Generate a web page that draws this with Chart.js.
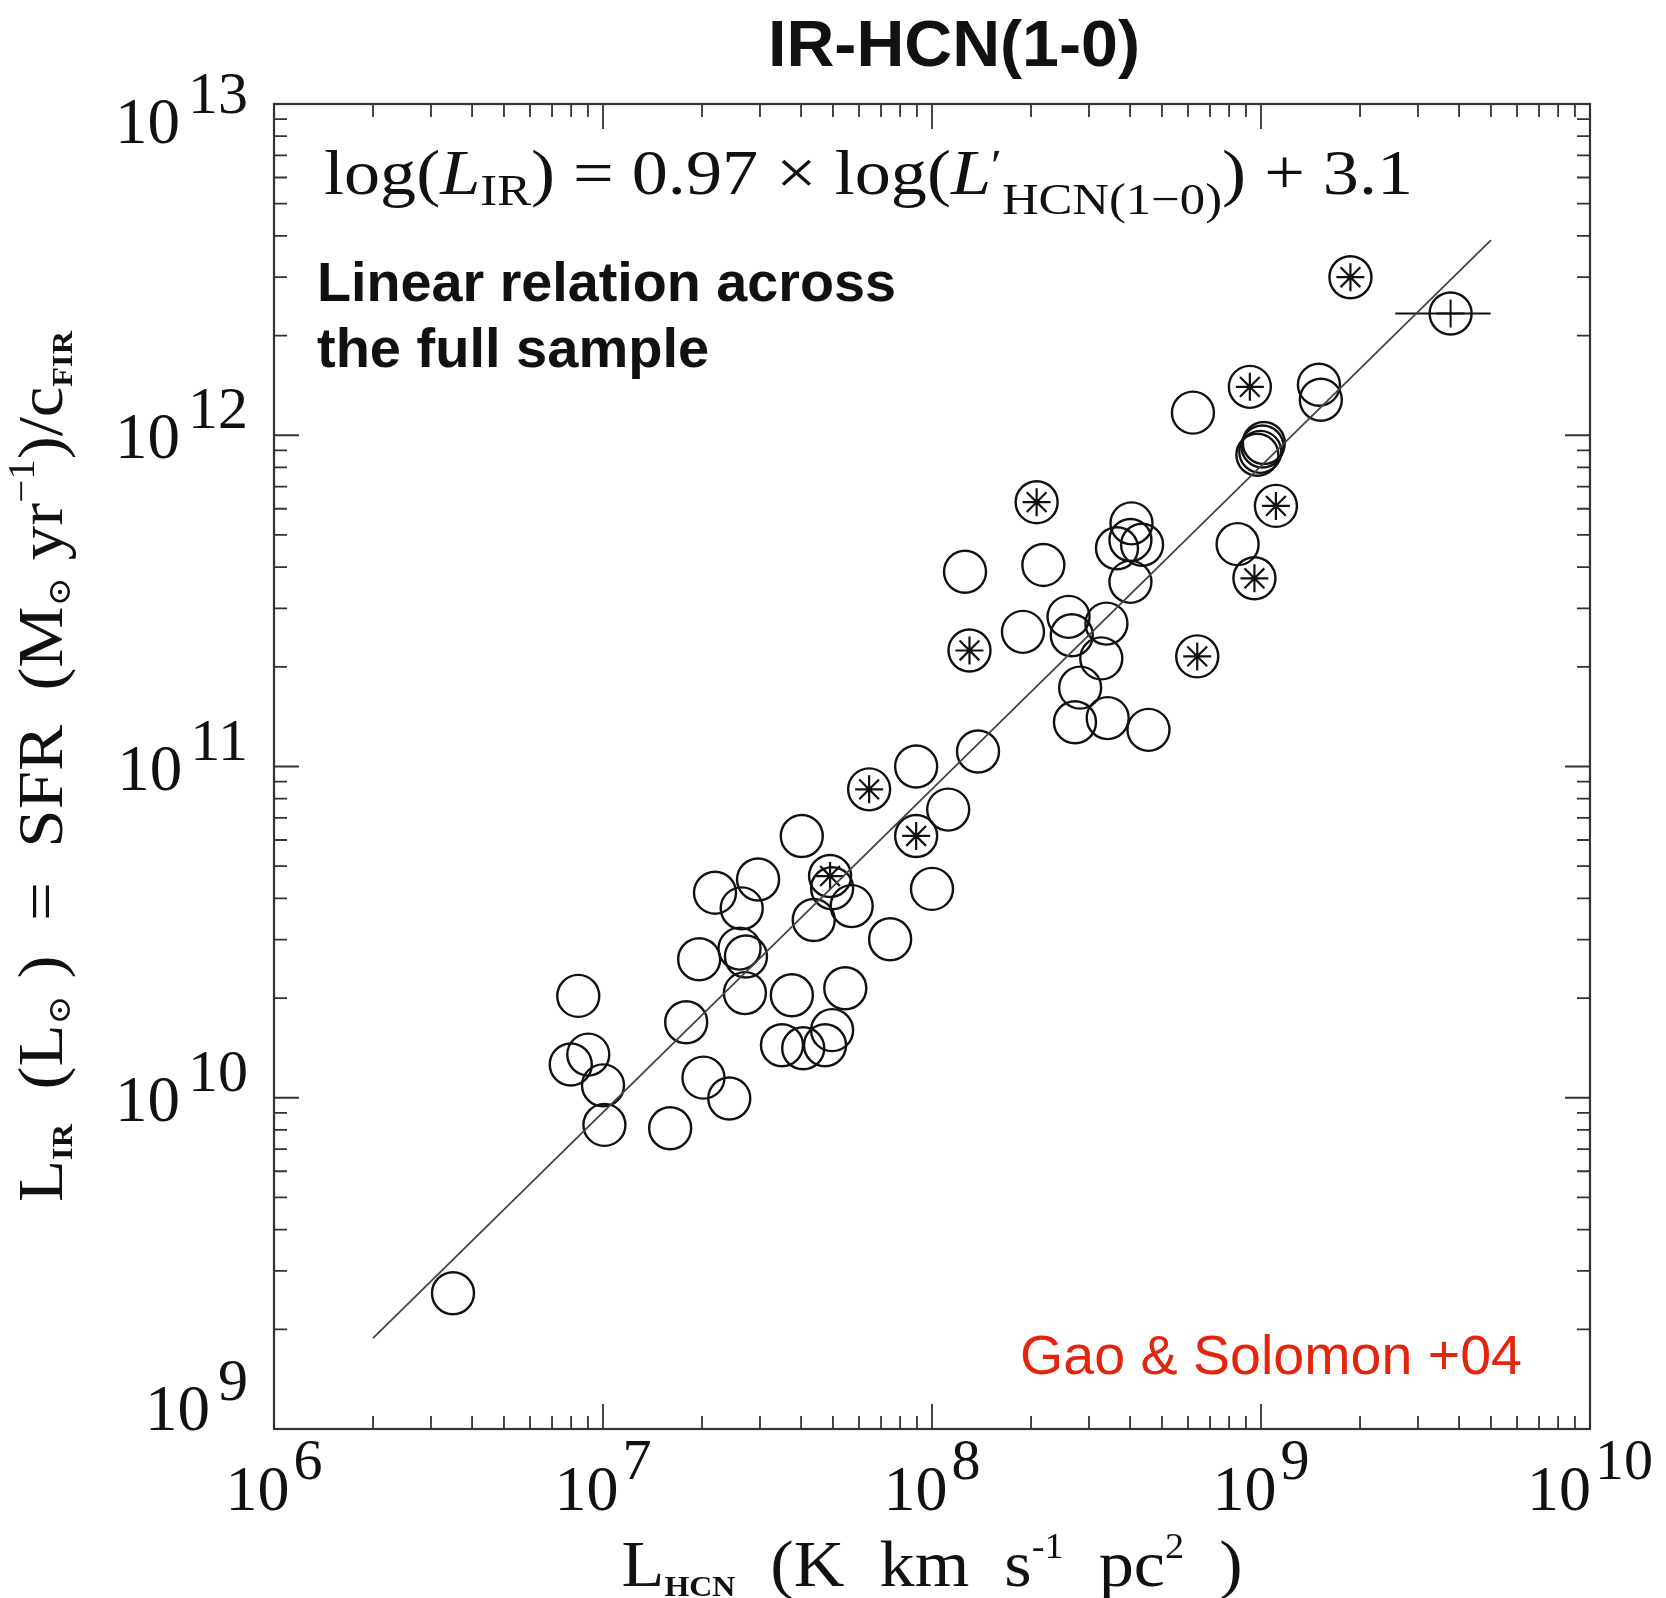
<!DOCTYPE html>
<html>
<head>
<meta charset="utf-8">
<script src="https://cdn.jsdelivr.net/npm/chart.js@4.4.1/dist/chart.umd.min.js"></script>
<style>
  body { margin: 0; background: #fff; }
  canvas { display: block; }
</style>
</head>
<body>
<canvas id="irChart" width="1666" height="1598"></canvas>
<script>
// axis ticks (decades) and their exponents
const xTicks = [1e6, 1e7, 1e8, 1e9, 1e10];
const xTickExps = ["6", "7", "8", "9", "10"];
const yTicks = [1e9, 1e10, 1e11, 1e12, 1e13];
const yTickExps = ["9", "10", "11", "12", "13"];

// open circles: L_HCN and L_IR
const openX = [3.50e6, 8.41e6, 9.02e6, 7.98e6, 1.00e7, 1.01e7, 1.60e7, 1.79e7, 2.02e7, 2.42e7,
  2.19e7, 2.96e7, 2.64e7, 1.96e7, 2.60e7, 2.72e7, 2.70e7, 3.75e7, 5.45e7, 3.50e7,
  4.06e7, 4.73e7, 4.97e7, 4.02e7, 4.97e7, 5.70e7, 4.37e7, 7.46e7, 8.95e7, 1.12e8,
  1.00e8, 1.38e8, 1.26e8, 2.18e8, 1.89e8, 2.60e8, 2.66e8, 3.39e8, 3.27e8, 2.82e8,
  2.72e8, 3.42e8, 4.55e8, 4.04e8, 3.65e8, 4.35e8, 4.01e8, 4.01e8, 6.21e8, 8.49e8,
  1.50e9, 1.52e9, 1.01e9, 1.02e9, 9.75e8, 9.95e8];
const openY = [2.57e9, 2.03e10, 1.35e10, 1.26e10, 1.09e10, 8.28e9, 8.09e9, 1.69e10, 1.15e10, 9.95e9,
  4.16e10, 4.56e10, 3.73e10, 2.62e10, 2.82e10, 2.67e10, 2.07e10, 2.04e10, 2.14e10, 1.44e10,
  1.41e10, 1.44e10, 1.60e10, 6.17e10, 4.29e10, 3.79e10, 3.44e10, 3.01e10, 1.00e11, 7.41e10,
  4.27e10, 1.11e11, 3.87e11, 4.06e11, 2.55e11, 2.83e11, 2.49e11, 2.70e11, 2.12e11, 1.73e11,
  1.36e11, 1.40e11, 1.29e11, 5.42e11, 4.56e11, 4.67e11, 3.61e11, 4.83e11, 1.17e12, 4.69e11,
  1.42e12, 1.28e12, 9.25e11, 9.48e11, 8.73e11, 8.91e11];

// circles with an asterisk inside
const starX = [6.44e7, 8.95e7, 4.90e7, 2.08e8, 1.30e8, 6.40e8, 1.87e9, 9.25e8, 1.11e9, 9.55e8];
const starY = [8.53e10, 6.17e10, 4.67e10, 6.28e11, 2.24e11, 2.15e11, 3.00e12, 1.40e12, 6.12e11, 3.70e11];

// circle with a plus and its horizontal error bar
const plusX = [3.77e9];
const plusY = [2.33e12];
const plusErrX = [2.56e9, 4.99e9];

// fitted relation, end points
const fitX = [2.0e6, 5.0e9];
const fitY = [1.88e9, 3.88e12];

const pts = (xs, ys) => xs.map((x, i) => ({ x: x, y: ys[i] }));
const ink = "#111";

// draw a row of text pieces (for sub/superscripts)
function drawRuns(c, runs, x, y, align, fitWidth) {
  let w = 0;
  runs.forEach(r => {
    c.font = r.font || "10px sans-serif";
    r.w = r.gap !== undefined ? r.gap : c.measureText(r.t).width;
    w += r.w;
  });
  const sx = fitWidth ? fitWidth / w : 1;
  c.save();
  c.translate(x, y);
  c.scale(sx, 1);
  c.textAlign = "left";
  c.textBaseline = "alphabetic";
  let cx = align === "center" ? -w / 2 : align === "right" ? -w : 0;
  runs.forEach(r => {
    if (r.t) {
      c.font = r.font;
      c.fillText(r.t, cx, r.dy || 0);
    }
    cx += r.w;
  });
  c.restore();
}

const serif = "'Liberation Serif', 'DejaVu Serif', serif";
const sans = "'Liberation Sans', Arial, sans-serif";

// frame, inward ticks, labels and annotations
const decorations = {
  id: "decorations",
  afterDraw(chart) {
    const c = chart.ctx;
    const a = chart.chartArea;
    const xs = chart.scales.x;
    const ys = chart.scales.y;
    c.save();

    // frame
    c.strokeStyle = "#333";
    c.lineWidth = 2.2;
    c.strokeRect(a.left, a.top, a.right - a.left, a.bottom - a.top);

    // ticks on all four sides
    c.lineWidth = 1.8;
    c.beginPath();
    for (let i = 0; i < xTicks.length; i++) {
      for (let m = 1; m <= 9; m++) {
        const v = xTicks[i] * m;
        if (v > xTicks[xTicks.length - 1]) break;
        const px = xs.getPixelForValue(v);
        const len = m === 1 ? 25 : 13;
        c.moveTo(px, a.bottom); c.lineTo(px, a.bottom - len);
        c.moveTo(px, a.top); c.lineTo(px, a.top + len);
      }
    }
    for (let i = 0; i < yTicks.length; i++) {
      for (let m = 1; m <= 9; m++) {
        const v = yTicks[i] * m;
        if (v > yTicks[yTicks.length - 1]) break;
        const py = ys.getPixelForValue(v);
        const len = m === 1 ? 25 : 13;
        c.moveTo(a.left, py); c.lineTo(a.left + len, py);
        c.moveTo(a.right, py); c.lineTo(a.right - len, py);
      }
    }
    c.stroke();

    // tick labels
    c.fillStyle = ink;
    xTicks.forEach((v, i) => {
      drawRuns(c, [
        { t: "10", font: "64px " + serif },
        { gap: 4 },
        { t: xTickExps[i], font: "58px " + serif, dy: -31 }
      ], xs.getPixelForValue(v), a.bottom + 81, "center");
    });
    yTicks.forEach((v, i) => {
      const off = i === yTicks.length - 1 ? 39 : i === 0 ? 1 : 23;
      drawRuns(c, [
        { t: "10", font: "65px " + serif },
        { gap: 8 },
        { t: yTickExps[i], font: "60px " + serif, dy: -30 }
      ], a.left - 26, ys.getPixelForValue(v) + off, "right");
    });

    // x axis title
    drawRuns(c, [
      { t: "L", font: "66px " + serif },
      { t: "HCN", font: "bold 30px " + serif, dy: 10 },
      { t: "  (K  km  s", font: "66px " + serif },
      { t: "-1", font: "36px " + serif, dy: -28 },
      { t: "  pc", font: "66px " + serif },
      { t: "2", font: "36px " + serif, dy: -28 },
      { t: "  )", font: "66px " + serif }
    ], (a.left + a.right) / 2, 1586, "center", 621);

    // y axis title
    c.save();
    c.translate(62, (a.top + a.bottom) / 2);
    c.rotate(-Math.PI / 2);
    drawRuns(c, [
      { t: "L", font: "64px " + serif },
      { t: "IR", font: "bold 30px " + serif, dy: 10 },
      { t: "  (L", font: "64px " + serif },
      { t: "\u2299", font: "32px " + serif, dy: 8 },
      { t: " )  =  SFR  (M", font: "64px " + serif },
      { t: "\u2299", font: "32px " + serif, dy: 8 },
      { t: " yr", font: "64px " + serif },
      { t: "\u22121", font: "38px " + serif, dy: -28 },
      { t: ")/c", font: "64px " + serif },
      { t: "FIR", font: "bold 30px " + serif, dy: 10 }
    ], 0, 0, "center", 871);
    c.restore();

    // fitted relation
    drawRuns(c, [
      { t: "log(", font: "64px " + serif },
      { t: "L", font: "italic 64px " + serif },
      { t: "IR", font: "45px " + serif, dy: 11 },
      { t: ") = 0.97 \u00d7 log(", font: "64px " + serif },
      { t: "L", font: "italic 64px " + serif },
      { t: "\u2032", font: "44px " + serif, dy: -14 },
      { t: "HCN(1\u22120)", font: "45px " + serif, dy: 20 },
      { t: ") + 3.1", font: "64px " + serif }
    ], 324, 194, "left", 1089);

    // title and notes
    drawRuns(c, [{ t: "IR-HCN(1-0)", font: "bold 64px " + sans }], 954, 66, "center", 372);
    drawRuns(c, [{ t: "Linear relation across", font: "bold 56px " + sans }], 317, 301, "left", 579);
    drawRuns(c, [{ t: "the full sample", font: "bold 56px " + sans }], 317, 367, "left");
    c.fillStyle = "#e2250c";
    drawRuns(c, [{ t: "Gao & Solomon +04", font: "56px " + sans }], 1522, 1374, "right", 502);

    c.restore();
  }
};

const ctx = document.getElementById("irChart");

new Chart(ctx, {
  type: "scatter",
  data: {
    datasets: [
      {
        label: "fit",
        data: pts(fitX, fitY),
        showLine: true,
        pointRadius: 0,
        borderColor: "#444",
        borderWidth: 1.8,
      },
      {
        label: "error bar",
        data: pts(plusErrX, [plusY[0], plusY[0]]),
        showLine: true,
        pointRadius: 0,
        borderColor: ink,
        borderWidth: 2,
      },
      {
        label: "galaxies",
        data: pts(openX, openY),
        pointStyle: "circle",
        pointRadius: 21,
        borderColor: ink,
        backgroundColor: "rgba(0,0,0,0)",
        borderWidth: 2.4,
      },
      {
        label: "starred",
        data: pts(starX, starY),
        pointStyle: "circle",
        pointRadius: 21,
        borderColor: ink,
        backgroundColor: "rgba(0,0,0,0)",
        borderWidth: 2.4,
      },
      {
        label: "stars",
        data: pts(starX, starY),
        pointStyle: "star",
        pointRadius: 14,
        borderColor: ink,
        borderWidth: 2.2,
      },
      {
        label: "plus circle",
        data: pts(plusX, plusY),
        pointStyle: "circle",
        pointRadius: 21,
        borderColor: ink,
        backgroundColor: "rgba(0,0,0,0)",
        borderWidth: 2.4,
      },
      {
        label: "plus",
        data: pts(plusX, plusY),
        pointStyle: "cross",
        pointRadius: 14,
        borderColor: ink,
        borderWidth: 2,
      },
    ],
  },
  options: {
    responsive: false,
    animation: false,
    events: [],
    layout: {
      padding: { left: 274, right: 76, top: 104, bottom: 169 },
    },
    plugins: {
      legend: { display: false },
      tooltip: { enabled: false },
    },
    scales: {
      x: {
        type: "logarithmic",
        min: 1e6,
        max: 1e10,
        display: false,
      },
      y: {
        type: "logarithmic",
        min: 1e9,
        max: 1e13,
        display: false,
      },
    },
  },
  plugins: [decorations],
});
</script>
</body>
</html>
